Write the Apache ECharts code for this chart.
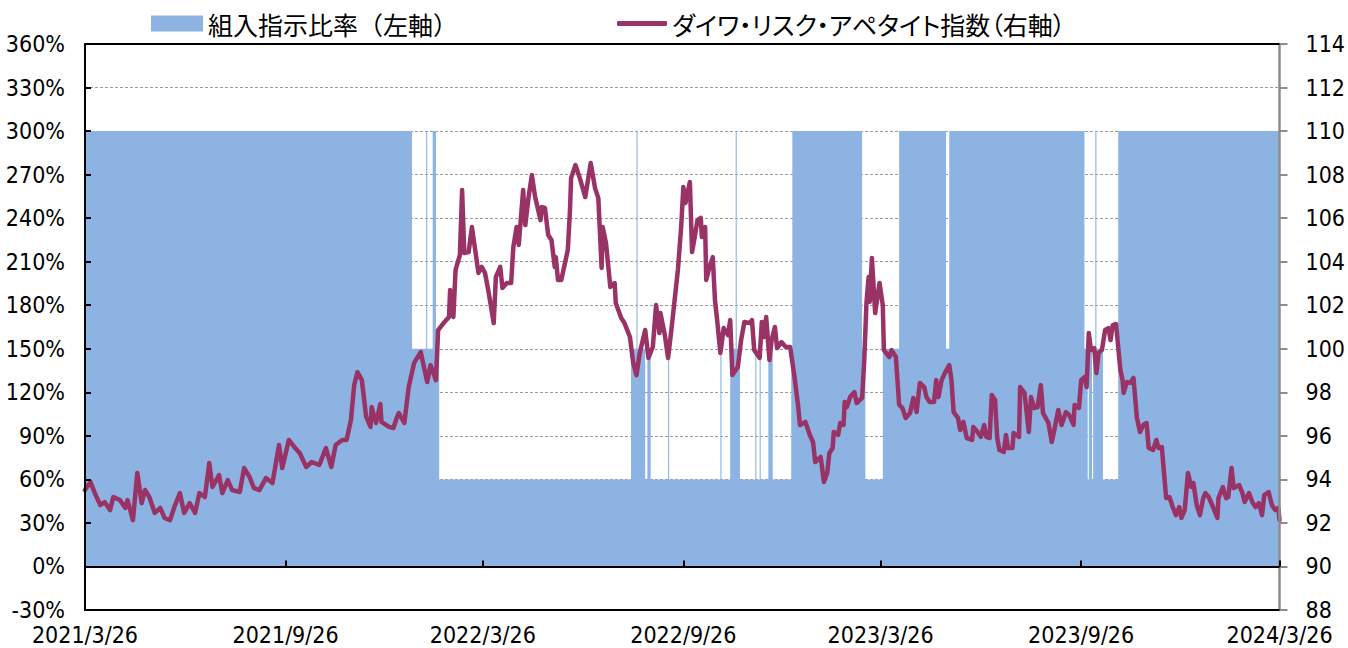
<!DOCTYPE html>
<html>
<head>
<meta charset="utf-8">
<title>組入指示比率とダイワ・リスク・アペタイト指数</title>
<script src="https://cdn.jsdelivr.net/npm/echarts@6/dist/echarts.min.js"></script>
<style>
  html, body { margin: 0; padding: 0; background: #fff; }
  #chart { width: 1348px; height: 648px; }
</style>
</head>
<body>
<div id="chart"></div>
<script>
// 組入指示比率（左軸, %）: 各日付から次の日付まで続く水準
const allocationSteps = [
  ['2021-03-26', 300], ['2022-01-20', 150], ['2022-02-02', 300], ['2022-02-03', 150],
  ['2022-02-08', 300], ['2022-02-11', 150], ['2022-02-14', 60], ['2022-08-09', 150],
  ['2022-08-14', 300], ['2022-08-15', 150], ['2022-08-22', 60], ['2022-08-24', 150],
  ['2022-08-27', 60], ['2022-09-12', 150], ['2022-09-13', 60], ['2022-10-30', 150],
  ['2022-10-31', 60], ['2022-11-08', 150], ['2022-11-13', 300], ['2022-11-14', 150],
  ['2022-11-17', 60], ['2022-12-01', 150], ['2022-12-02', 60], ['2022-12-05', 150],
  ['2022-12-06', 60], ['2022-12-13', 150], ['2022-12-17', 60], ['2023-01-03', 150],
  ['2023-01-04', 300], ['2023-03-09', 150], ['2023-03-12', 60], ['2023-03-28', 150],
  ['2023-04-12', 300], ['2023-05-25', 150], ['2023-05-28', 300], ['2023-09-29', 150],
  ['2023-10-02', 60], ['2023-10-03', 150], ['2023-10-06', 60], ['2023-10-07', 150],
  ['2023-10-09', 300], ['2023-10-10', 150], ['2023-10-16', 60], ['2023-10-30', 300],
  ['2024-03-26', 300]
]

// ダイワ・リスク・アペタイト指数（右軸）
const riskIndex2021 = [
  ['2021-03-26', 93.51], ['2021-03-31', 93.88], ['2021-04-04', 93.37], ['2021-04-09', 92.82],
  ['2021-04-13', 92.96], ['2021-04-18', 92.59], ['2021-04-21', 93.19], ['2021-04-27', 93.05],
  ['2021-05-02', 92.69], ['2021-05-04', 93.05], ['2021-05-09', 92.13], ['2021-05-13', 94.29],
  ['2021-05-17', 92.91], ['2021-05-20', 93.51], ['2021-05-24', 93.19], ['2021-05-29', 92.46],
  ['2021-06-03', 92.69], ['2021-06-07', 92.23], ['2021-06-12', 92.13], ['2021-06-16', 92.73],
  ['2021-06-21', 93.37], ['2021-06-25', 92.46], ['2021-06-30', 92.91], ['2021-07-05', 92.46],
  ['2021-07-09', 93.37], ['2021-07-14', 93.19], ['2021-07-18', 94.75], ['2021-07-21', 93.65],
  ['2021-07-27', 94.20], ['2021-07-30', 93.37], ['2021-08-04', 93.97], ['2021-08-08', 93.51],
  ['2021-08-15', 93.42], ['2021-08-19', 94.52], ['2021-08-24', 94.11], ['2021-08-28', 93.60],
  ['2021-09-02', 93.51], ['2021-09-08', 94.06], ['2021-09-14', 93.83], ['2021-09-20', 95.58],
  ['2021-09-23', 94.52], ['2021-09-29', 95.81], ['2021-10-04', 95.49], ['2021-10-09', 95.21],
  ['2021-10-15', 94.57], ['2021-10-20', 94.80], ['2021-10-27', 94.66], ['2021-11-02', 95.44],
  ['2021-11-07', 94.57], ['2021-11-11', 95.58], ['2021-11-17', 95.81], ['2021-11-21', 95.81],
  ['2021-11-25', 96.73], ['2021-11-28', 98.33], ['2021-12-01', 98.93], ['2021-12-05', 98.56],
  ['2021-12-09', 96.87], ['2021-12-13', 96.41], ['2021-12-14', 97.32], ['2021-12-18', 96.59],
  ['2021-12-22', 97.46], ['2021-12-23', 96.64], ['2021-12-30', 96.41]
]
const riskIndex2022 = [
  ['2022-01-03', 96.36], ['2022-01-06', 96.82], ['2022-01-08', 97.05], ['2022-01-13', 96.59],
  ['2022-01-17', 98.24], ['2022-01-22', 99.35], ['2022-01-28', 99.85], ['2022-02-03', 98.47],
  ['2022-02-06', 99.25], ['2022-02-11', 98.56], ['2022-02-13', 100.86], ['2022-02-18', 101.18],
  ['2022-02-23', 101.46], ['2022-02-24', 102.70], ['2022-02-27', 101.46], ['2022-03-01', 103.62],
  ['2022-03-05', 104.31], ['2022-03-07', 107.29], ['2022-03-09', 104.40], ['2022-03-13', 104.44],
  ['2022-03-16', 105.59], ['2022-03-19', 104.54], ['2022-03-22', 103.48], ['2022-03-25', 103.76],
  ['2022-03-28', 103.48], ['2022-03-31', 102.70], ['2022-04-05', 101.18], ['2022-04-07', 103.30],
  ['2022-04-11', 103.76], ['2022-04-13', 102.79], ['2022-04-17', 103.02], ['2022-04-21', 103.02],
  ['2022-04-23', 104.67], ['2022-04-26', 105.59], ['2022-04-28', 104.77], ['2022-05-02', 107.29],
  ['2022-05-04', 105.68], ['2022-05-07', 106.97], ['2022-05-10', 107.98], ['2022-05-13', 106.97],
  ['2022-05-18', 105.91], ['2022-05-19', 106.51], ['2022-05-22', 106.47], ['2022-05-25', 105.23],
  ['2022-05-28', 105.00], ['2022-05-31', 103.76], ['2022-06-01', 104.21], ['2022-06-03', 103.16],
  ['2022-06-06', 103.16], ['2022-06-10', 104.08], ['2022-06-12', 104.54], ['2022-06-14', 106.37],
  ['2022-06-15', 107.84], ['2022-06-19', 108.44], ['2022-06-23', 107.84], ['2022-06-28', 106.97],
  ['2022-07-03', 108.53], ['2022-07-07', 107.38], ['2022-07-10', 106.92], ['2022-07-13', 103.71],
  ['2022-07-14', 105.59], ['2022-07-17', 104.86], ['2022-07-21', 102.84], ['2022-07-25', 103.02],
  ['2022-07-26', 102.10], ['2022-07-31', 101.41], ['2022-08-03', 101.18], ['2022-08-08', 100.54],
  ['2022-08-11', 99.35], ['2022-08-14', 98.79], ['2022-08-17', 99.81], ['2022-08-22', 100.86],
  ['2022-08-25', 99.58], ['2022-08-29', 100.08], ['2022-09-01', 102.01], ['2022-09-04', 100.72],
  ['2022-09-05', 101.64], ['2022-09-09', 100.63], ['2022-09-12', 99.58], ['2022-09-15', 100.86],
  ['2022-09-18', 102.24], ['2022-09-21', 103.62], ['2022-09-24', 105.59], ['2022-09-26', 107.43],
  ['2022-09-28', 106.70], ['2022-10-02', 107.66], ['2022-10-04', 104.44], ['2022-10-06', 105.00],
  ['2022-10-09', 105.91], ['2022-10-12', 106.01], ['2022-10-13', 105.13], ['2022-10-16', 105.59],
  ['2022-10-17', 103.16], ['2022-10-20', 103.76], ['2022-10-23', 104.21], ['2022-10-25', 102.24],
  ['2022-10-27', 101.32], ['2022-10-30', 99.81], ['2022-11-02', 100.95], ['2022-11-06', 100.63],
  ['2022-11-08', 101.32], ['2022-11-10', 98.79], ['2022-11-15', 99.16], ['2022-11-18', 100.40],
  ['2022-11-21', 101.23], ['2022-11-26', 101.18], ['2022-11-28', 101.32], ['2022-11-30', 99.94],
  ['2022-12-05', 99.58], ['2022-12-07', 101.23], ['2022-12-09', 100.54], ['2022-12-11', 101.46],
  ['2022-12-14', 99.48], ['2022-12-16', 100.40], ['2022-12-19', 101.00], ['2022-12-21', 100.03],
  ['2022-12-25', 100.31], ['2022-12-29', 100.08]
]
const riskIndex2023 = [
  ['2023-01-02', 100.08], ['2023-01-06', 98.70], ['2023-01-09', 97.51], ['2023-01-11', 96.50],
  ['2023-01-16', 96.64], ['2023-01-20', 96.04], ['2023-01-23', 95.72], ['2023-01-25', 94.80],
  ['2023-01-30', 95.03], ['2023-02-02', 93.88], ['2023-02-05', 94.29], ['2023-02-07', 95.21],
  ['2023-02-10', 95.44], ['2023-02-11', 96.18], ['2023-02-15', 96.04], ['2023-02-17', 96.59],
  ['2023-02-20', 96.50], ['2023-02-21', 97.55], ['2023-02-23', 97.32], ['2023-02-26', 97.78],
  ['2023-03-02', 98.01], ['2023-03-04', 97.51], ['2023-03-09', 97.74], ['2023-03-11', 99.48],
  ['2023-03-13', 102.10], ['2023-03-15', 103.30], ['2023-03-16', 102.15], ['2023-03-18', 104.17],
  ['2023-03-21', 101.64], ['2023-03-25', 103.02], ['2023-03-28', 102.00], ['2023-03-29', 99.94],
  ['2023-04-03', 99.62], ['2023-04-05', 99.94], ['2023-04-09', 99.62], ['2023-04-12', 97.42],
  ['2023-04-15', 97.28], ['2023-04-18', 96.82], ['2023-04-22', 97.05], ['2023-04-25', 97.74],
  ['2023-04-28', 97.09], ['2023-05-01', 98.43], ['2023-05-05', 98.24], ['2023-05-07', 97.78],
  ['2023-05-10', 97.55], ['2023-05-14', 97.55], ['2023-05-16', 98.56], ['2023-05-18', 97.78],
  ['2023-05-21', 98.56], ['2023-05-24', 98.89], ['2023-05-28', 99.25], ['2023-05-30', 98.56],
  ['2023-06-01', 97.09], ['2023-06-05', 96.82], ['2023-06-07', 96.27], ['2023-06-10', 96.64],
  ['2023-06-13', 95.90], ['2023-06-18', 95.81], ['2023-06-19', 96.41], ['2023-06-23', 96.18],
  ['2023-06-26', 95.95], ['2023-06-29', 96.50], ['2023-07-01', 95.95], ['2023-07-04', 95.90],
  ['2023-07-06', 97.88], ['2023-07-09', 97.65], ['2023-07-11', 95.90], ['2023-07-13', 95.35],
  ['2023-07-17', 95.26], ['2023-07-19', 96.04], ['2023-07-21', 95.44], ['2023-07-25', 95.44],
  ['2023-07-26', 96.13], ['2023-07-31', 95.95], ['2023-08-01', 98.24], ['2023-08-05', 97.97],
  ['2023-08-09', 96.18], ['2023-08-11', 97.78], ['2023-08-14', 97.28], ['2023-08-17', 97.32],
  ['2023-08-20', 98.33], ['2023-08-22', 97.05], ['2023-08-27', 96.59], ['2023-08-30', 95.72],
  ['2023-09-01', 96.18], ['2023-09-05', 97.19], ['2023-09-08', 96.50], ['2023-09-12', 97.09],
  ['2023-09-15', 96.96], ['2023-09-19', 96.50], ['2023-09-20', 97.42], ['2023-09-24', 97.28],
  ['2023-09-26', 98.56], ['2023-09-29', 98.70], ['2023-10-01', 98.24], ['2023-10-03', 100.72],
  ['2023-10-05', 99.94], ['2023-10-08', 100.03], ['2023-10-10', 98.89], ['2023-10-12', 99.81],
  ['2023-10-15', 99.94], ['2023-10-18', 100.86], ['2023-10-21', 100.95], ['2023-10-23', 100.40],
  ['2023-10-25', 101.09], ['2023-10-28', 101.14], ['2023-11-01', 99.02], ['2023-11-03', 98.56],
  ['2023-11-04', 97.97], ['2023-11-07', 98.47], ['2023-11-10', 98.43], ['2023-11-13', 98.66],
  ['2023-11-15', 97.51], ['2023-11-16', 96.87], ['2023-11-19', 96.18], ['2023-11-22', 96.50],
  ['2023-11-25', 96.59], ['2023-11-27', 95.44], ['2023-12-01', 95.35], ['2023-12-04', 95.81],
  ['2023-12-06', 95.44], ['2023-12-09', 95.49], ['2023-12-13', 93.14], ['2023-12-16', 93.19],
  ['2023-12-19', 92.73], ['2023-12-22', 92.36], ['2023-12-25', 92.73], ['2023-12-27', 92.23],
  ['2023-12-30', 92.59]
]
const riskIndex2024 = [
  ['2024-01-02', 94.29], ['2024-01-05', 93.65], ['2024-01-07', 93.83], ['2024-01-10', 92.82],
  ['2024-01-13', 92.36], ['2024-01-16', 93.14], ['2024-01-18', 93.37], ['2024-01-21', 93.19],
  ['2024-01-25', 92.73], ['2024-01-29', 92.23], ['2024-01-30', 93.14], ['2024-02-03', 93.65],
  ['2024-02-06', 93.14], ['2024-02-08', 93.19], ['2024-02-11', 94.52], ['2024-02-13', 93.60],
  ['2024-02-18', 93.74], ['2024-02-21', 93.37], ['2024-02-23', 92.96], ['2024-02-27', 93.37],
  ['2024-03-01', 92.96], ['2024-03-04', 92.73], ['2024-03-07', 92.91], ['2024-03-10', 92.36],
  ['2024-03-12', 93.28], ['2024-03-16', 93.42], ['2024-03-19', 92.82], ['2024-03-22', 92.59],
  ['2024-03-25', 92.69], ['2024-03-26', 92.13]
]

const xTickLabels = ['2021/3/26', '2021/9/26', '2022/3/26', '2022/9/26', '2023/3/26', '2023/9/26', '2024/3/26']
const leftAxis = { min: -30, max: 360, interval: 30 }
const rightAxis = { min: 88, max: 114, interval: 2 }

const seriesNames = ['組入指示比率（左軸）', 'ダイワ・リスク・アペタイト指数（右軸）']

// 日付文字列 -> ローカル時刻（ミリ秒）
const toTime = (s) => {
  const [y, m, d] = s.split(/[-/]/).map(Number)
  return new Date(y, m - 1, d).getTime()
}

const tickTimes = xTickLabels.map(toTime)
const xMin = tickTimes[0]
const xMax = tickTimes[tickTimes.length - 1]

const allocationData = allocationSteps.map(([d, v]) => [toTime(d), v])
const riskData = [...riskIndex2021, ...riskIndex2022, ...riskIndex2023, ...riskIndex2024]
  .map(([d, v]) => [toTime(d), v])

const numFont = "'Liberation Sans Narrow', 'DejaVu Sans Condensed', 'Liberation Sans', sans-serif"
const jpFont = "'Noto Sans CJK JP', sans-serif"

const chart = echarts.init(document.getElementById('chart'), null, { renderer: 'svg' })

// 日付軸は数値（時刻）軸として持ち、目盛は半年ごとの日付に置く
const dateAxis = (extra) => Object.assign({
  type: 'value',
  min: xMin,
  max: xMax,
  z: 10,
  axisTick: { show: false },
  axisLabel: { show: false },
  splitLine: { show: false }
}, extra)

const option = {
  animation: false,
  backgroundColor: '#fff',
  grid: { left: 85, right: 64, top: 44, bottom: 38, show: false },
  legend: [
    {
      data: [{ name: seriesNames[0], icon: 'rect' }],
      left: 151,
      top: 11,
      padding: 0,
      itemWidth: 52,
      itemHeight: 16,
      selectedMode: false,
      textStyle: { fontFamily: jpFont, fontSize: 25, color: '#000' }
    },
    {
      data: [{ name: seriesNames[1], icon: 'roundRect' }],
      left: 617,
      top: 11,
      padding: 0,
      itemWidth: 50,
      itemHeight: 5,
      selectedMode: false,
      textStyle: { fontFamily: jpFont, fontSize: 25, color: '#000' }
    }
  ],
  xAxis: [
    // 0% の位置の軸線と目盛
    dateAxis({
      position: 'bottom',
      axisLine: { onZero: true, lineStyle: { color: '#000', width: 2 } },
      axisTick: {
        show: true,
        inside: true,
        length: 6,
        customValues: tickTimes,
        lineStyle: { color: '#000', width: 2 }
      }
    }),
    // 下端の枠線と日付ラベル
    dateAxis({
      position: 'bottom',
      axisLine: { onZero: false, lineStyle: { color: '#000', width: 2 } },
      axisLabel: {
        show: true,
        customValues: tickTimes,
        formatter: (value) => {
          const i = tickTimes.indexOf(value)
          return i >= 0 ? xTickLabels[i] : ''
        },
        fontFamily: numFont,
        fontSize: 23,
        color: '#000',
        margin: 13,
        hideOverlap: false,
        showMinLabel: true,
        showMaxLabel: true
      }
    }),
    // 上端の枠線
    dateAxis({
      position: 'top',
      axisLine: { onZero: false, lineStyle: { color: '#000', width: 2 } }
    })
  ],
  yAxis: [
    {
      type: 'value',
      position: 'left',
      ...leftAxis,
      axisLine: { show: false },
      axisTick: { show: false },
      axisLabel: {
        formatter: '{value}%',
        fontFamily: numFont,
        fontSize: 23,
        color: '#000',
        margin: 20
      },
      splitLine: { lineStyle: { color: '#9a9a9a', width: 1, type: [3, 2] } }
    },
    {
      type: 'value',
      position: 'right',
      ...rightAxis,
      z: 10,
      axisLine: { show: true, lineStyle: { color: '#8c8c8c', width: 2.5 } },
      axisTick: { show: true, inside: false, length: 8, lineStyle: { color: '#8c8c8c', width: 2 } },
      axisLabel: { fontFamily: numFont, fontSize: 23, color: '#000', margin: 26 },
      splitLine: { show: false }
    },
    {
      // 左軸の線と内向き目盛（面の上に描く）
      type: 'value',
      position: 'left',
      ...leftAxis,
      z: 10,
      axisLine: { show: true, lineStyle: { color: '#000', width: 2 } },
      axisTick: { show: true, inside: true, length: 6, lineStyle: { color: '#000', width: 2 } },
      axisLabel: { show: false },
      splitLine: { show: false }
    }
  ],
  series: [
    {
      name: seriesNames[0],
      type: 'line',
      step: 'end',
      xAxisIndex: 0,
      yAxisIndex: 0,
      data: allocationData,
      showSymbol: false,
      z: 2,
      itemStyle: { color: '#8db3e2' },
      lineStyle: { width: 0 },
      areaStyle: { color: '#8db3e2', opacity: 1 }
    },
    {
      name: seriesNames[1],
      type: 'line',
      xAxisIndex: 0,
      yAxisIndex: 1,
      data: riskData,
      showSymbol: false,
      z: 3,
      itemStyle: { color: '#993366' },
      lineStyle: { color: '#993366', width: 4.5, join: 'round', cap: 'round' }
    }
  ]
}

chart.setOption(option)

// 右軸の凡例はかなを詰めて表示
document.querySelectorAll('#chart text').forEach((t) => {
  if (t.textContent.indexOf('ダイワ') >= 0) t.style.fontFeatureSettings = '"palt"'
})
</script>
</body>
</html>
